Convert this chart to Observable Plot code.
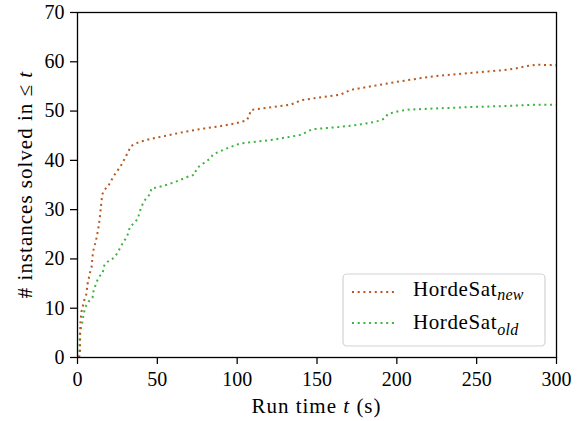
<!DOCTYPE html>
<html>
<head>
<meta charset="utf-8">
<script src="https://cdn.jsdelivr.net/npm/d3@7"></script>
<script src="https://cdn.jsdelivr.net/npm/@observablehq/plot@0.6"></script>
<style>
  html, body { margin: 0; padding: 0; background: #fff; }
  #wrap { position: relative; width: 577px; height: 421px; font-family: "Liberation Serif", serif; color: #000; }
  #wrap svg { display: block; }
  .lbl { position: absolute; white-space: nowrap; font-family: "Liberation Serif", serif; }
  .xt { left: 0; width: 633px; top: 396px; font-size: 21px; line-height: 21px; letter-spacing: 1px; text-align: center; }
  .yt { width: 345px; height: 21px; left: -147px; top: 174px; font-size: 21px; line-height: 21px; letter-spacing: 1px; text-align: center; transform: rotate(-90deg); transform-origin: 50% 50%; }
  .lg { left: 413px; font-size: 21px; line-height: 21px; letter-spacing: 0.6px; }
  .lg i { font-size: 16px; position: relative; letter-spacing: 0.3px; }
</style>
</head>
<body>
<div id="wrap"></div>
<script>
// ---- data ----
const seriesNames = ["new", "old"];
const xTicks = [0, 50, 100, 150, 200, 250, 300];
const yTicks = [0, 10, 20, 30, 40, 50, 60, 70];

const newTime =   [1, 1.5, 1.8, 2.5, 4.2, 5.5, 6.3, 7.8, 8.8, 9.4, 10, 11.7, 13, 14, 14.7, 15.5, 16.9, 19.4, 22.8, 27, 30.3, 33.5, 36.2, 39.5, 46.4, 56.9, 67.3, 78, 88.6, 99, 106, 107.6, 108.5, 119.1, 133.4, 136.7, 139.8, 150.5, 164.5, 167.8, 171, 185.2, 199.4, 213.4, 224.1, 245.4, 256, 266.7, 273.8, 280.9, 288, 300];
const newSolved = [0, 1.4, 7, 9.3, 11.6, 12.8, 14.9, 17.2, 18.3, 20.5, 21.8, 23.9, 26.1, 28.4, 30.7, 33.1, 34, 34.9, 36.9, 38.8, 40.8, 42.9, 43.4, 43.8, 44.4, 45.1, 45.8, 46.4, 46.9, 47.5, 48.1, 49.1, 50.2, 50.7, 51.3, 51.7, 52.2, 52.7, 53.3, 53.8, 54.3, 55.1, 55.9, 56.6, 57.1, 57.7, 58, 58.3, 58.6, 59.1, 59.4, 59.3];

const oldTime =   [1, 1.3, 1.5, 2.1, 2.9, 4.2, 5.2, 7.1, 9.4, 9.8, 11.9, 13.6, 15.9, 16.3, 18, 21.1, 23.6, 25.5, 28.8, 31, 32.9, 35.5, 37.9, 38.7, 39.7, 41.2, 43, 45.6, 46.2, 49.8, 56.7, 63.3, 70, 73.4, 74.4, 76.9, 79.9, 82.8, 84.9, 88.2, 94.9, 101.6, 112, 122.9, 133.4, 140.4, 143.6, 147, 164.7, 175.4, 186.1, 189.7, 192.3, 194.4, 197.7, 201.2, 208, 222.4, 243.9, 265.2, 286.8, 300];
const oldSolved = [0, 1.4, 4.8, 5.9, 7, 9.3, 10.4, 11.4, 12.1, 13.2, 15.3, 16.4, 17.2, 18.4, 19.3, 19.8, 20.5, 21.5, 23.5, 24.5, 26.5, 27.3, 28.2, 29.3, 30.3, 31.4, 32.3, 33.2, 34.3, 34.5, 35.1, 35.9, 36.8, 37.1, 38.2, 39, 39.6, 40.3, 41.2, 41.7, 42.6, 43.4, 43.8, 44.2, 44.8, 45.2, 45.8, 46.3, 46.8, 47.2, 47.8, 48.1, 48.5, 49.4, 49.7, 50, 50.3, 50.5, 50.8, 51, 51.3, 51.3];

const colors = ["#b9581f", "#3db43d"];

// ---- build tables ----
const newData = newTime.map((t, i) => ({t, n: newSolved[i]}));
const oldData = oldTime.map((t, i) => ({t, n: oldSolved[i]}));

const FONT = '"Liberation Serif", serif';
const dash = "2,3.7";

const svg = Plot.plot({
  width: 577,
  height: 421,
  marginTop: 12,
  marginRight: 21,
  marginBottom: 64,
  marginLeft: 77,
  style: {fontFamily: FONT, fontSize: "20px", color: "black", background: "white"},
  x: {domain: [0, 300]},
  y: {domain: [0, 70]},
  marks: [
    Plot.line(oldData, {x: "t", y: "n", stroke: colors[1], strokeWidth: 2, strokeDasharray: dash, strokeLinecap: "butt"}),
    Plot.line(newData, {x: "t", y: "n", stroke: colors[0], strokeWidth: 2, strokeDasharray: dash, strokeLinecap: "butt"}),
    Plot.axisX({ticks: xTicks, tickSize: 7, tickPadding: 7, label: null, strokeWidth: 1.25}),
    Plot.axisY({ticks: yTicks, tickSize: 7, tickPadding: 6, label: null, strokeWidth: 1.25}),
    Plot.frame({stroke: "black", strokeWidth: 1.3})
  ]
});

const wrap = document.getElementById("wrap");
wrap.appendChild(svg);
svg.querySelectorAll("text").forEach(el => el.style.setProperty("font-family", FONT, "important"));

// ---- legend box and samples (SVG) ----
const s = d3.select(svg);
const lg = s.append("g");
lg.append("rect")
  .attr("x", 343).attr("y", 274).attr("width", 202).attr("height", 72)
  .attr("rx", 4).attr("fill", "white").attr("fill-opacity", 0.85)
  .attr("stroke", "#d3d3d3").attr("stroke-width", 1.2);
const rowsY = [292, 323];
[0, 1].forEach(i => {
  lg.append("line")
    .attr("x1", 352).attr("x2", 396).attr("y1", rowsY[i]).attr("y2", rowsY[i])
    .attr("stroke", colors[i]).attr("stroke-width", 2).attr("stroke-dasharray", dash);
});

// ---- text labels (HTML) ----
function addLabel(cls, html, top) {
  const d = document.createElement("div");
  d.className = "lbl " + cls;
  d.innerHTML = html;
  if (top != null) d.style.top = top + "px";
  wrap.appendChild(d);
  return d;
}
addLabel("xt", "Run time <i>t</i> (s)");
addLabel("yt", "# instances solved in ≤ <i>t</i>");
const baseTops = [279, 312];
const subDrop = [4, 6];
[0, 1].forEach(i => {
  addLabel("lg", `HordeSat<i style="top:${subDrop[i]}px">${seriesNames[i]}</i>`, baseTops[i]);
});
</script>
</body>
</html>
